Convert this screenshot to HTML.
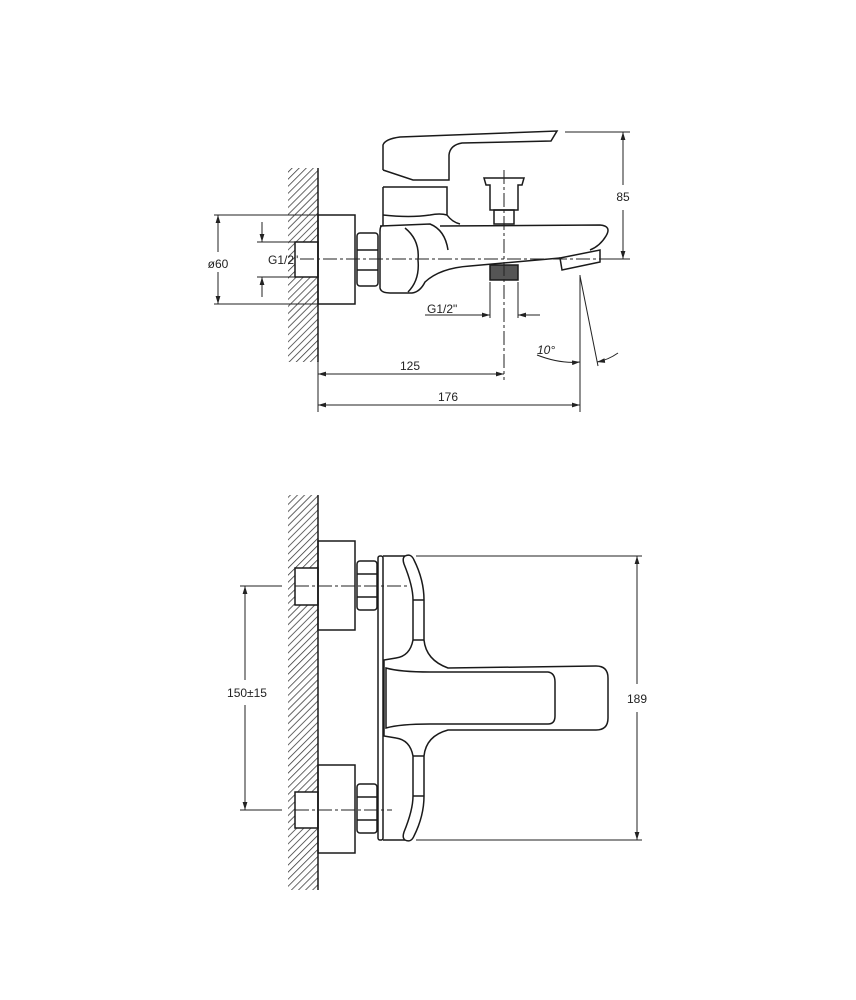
<!DOCTYPE html>
<html><head><meta charset="utf-8"><style>
html,body{margin:0;padding:0;background:#fff}
svg{display:block}
text{font-family:"Liberation Sans",sans-serif;font-size:12px;fill:#222}
</style></head><body>
<svg width="856" height="1000" viewBox="0 0 856 1000" xmlns="http://www.w3.org/2000/svg">
<defs>
<pattern id="h" patternUnits="userSpaceOnUse" width="5" height="5" patternTransform="rotate(45)">
<line x1="0" y1="0" x2="0" y2="5" stroke="#333" stroke-width="1.5"/>
</pattern>
<marker id="a" viewBox="0 0 10 10" refX="10" refY="5" markerWidth="8" markerHeight="8" orient="auto-start-reverse" markerUnits="userSpaceOnUse">
<path d="M0,2 L10,5 L0,8 Z" fill="#222"/>
</marker>
</defs>
<g fill="none" stroke="#1a1a1a" stroke-width="1.5">
<!-- TOP VIEW -->
<rect x="288" y="168" width="30" height="74" fill="url(#h)" stroke="none"/>
<rect x="288" y="277" width="30" height="85" fill="url(#h)" stroke="none"/>
<rect x="288" y="242" width="7" height="35" fill="url(#h)" stroke="none"/>
<line x1="318" y1="168" x2="318" y2="362"/>
<rect x="295" y="242" width="23" height="35"/>
<rect x="318" y="215" width="37" height="89"/>
<rect x="357" y="233" width="21" height="53" rx="3"/>
<line x1="357" y1="250" x2="378" y2="250"/><line x1="357" y1="270" x2="378" y2="270"/>
<path d="M382,226 Q380,226 380,232 L380,288 Q381,293 390,293 L412,293 Q420,292 425,282 Q440,268 470,266 L560,258"/>
<path d="M405,228 Q420,240 418,260 Q420,280 408,292"/>
<path d="M380,226 L430,224 Q445,230 448,250"/>
<path d="M440,226 L600,225 Q612,226 606,236 Q600,246 590,250"/>
<path d="M560,258 L600,250 L600,262 L562,270 Z"/>
<path d="M383,187 L447,187 L447,215 Q452,222 460,224 M383,187 L383,226"/>
<path d="M383,215 Q410,218 430,215 Q440,213 447,215"/>
<path d="M383,170 L383,145 Q385,139 400,137 L557,131 L551,141 L462,143 Q450,145 449,155 L449,180 L413,180 L383,170"/>
<path d="M484,178 L524,178 L522,185 L518,185 L518,210 L490,210 L490,185 L486,185 Z"/>
<rect x="494" y="210" width="20" height="14"/>
<rect x="490" y="265" width="28" height="15" fill="#555"/>
</g>
<g fill="none" stroke="#222" stroke-width="1">
<line x1="300" y1="259" x2="630" y2="259" stroke-dasharray="14,3,3,3"/>
<line x1="504" y1="170" x2="504" y2="380" stroke-dasharray="14,3,3,3"/>
<line x1="565" y1="132" x2="630" y2="132"/>
<line x1="612" y1="259" x2="630" y2="259"/>
<line x1="623" y1="132" x2="623" y2="185" marker-start="url(#a)"/>
<line x1="623" y1="210" x2="623" y2="259" marker-end="url(#a)"/>
<line x1="214" y1="215" x2="318" y2="215"/>
<line x1="214" y1="304" x2="318" y2="304"/>
<line x1="218" y1="215" x2="218" y2="252" marker-start="url(#a)"/>
<line x1="218" y1="272" x2="218" y2="304" marker-end="url(#a)"/>
<line x1="257" y1="242" x2="295" y2="242"/>
<line x1="257" y1="277" x2="295" y2="277"/>
<line x1="262" y1="222" x2="262" y2="242" marker-end="url(#a)"/>
<line x1="262" y1="297" x2="262" y2="277" marker-end="url(#a)"/>
<line x1="490" y1="282" x2="490" y2="318"/>
<line x1="518" y1="282" x2="518" y2="318"/>
<line x1="425" y1="315" x2="490" y2="315" marker-end="url(#a)"/>
<line x1="540" y1="315" x2="518" y2="315" marker-end="url(#a)"/>
<line x1="580" y1="275" x2="580" y2="412"/>
<line x1="580" y1="276" x2="598" y2="366"/>
<path d="M537,355 Q560,364 580,362" marker-end="url(#a)"/>
<path d="M618,353 Q608,360 597,362" marker-end="url(#a)"/>
<line x1="318" y1="362" x2="318" y2="412"/>
<line x1="318" y1="374" x2="504" y2="374" marker-start="url(#a)" marker-end="url(#a)"/>
<line x1="318" y1="405" x2="580" y2="405" marker-start="url(#a)" marker-end="url(#a)"/>
</g>
<text x="623" y="201" text-anchor="middle">85</text>
<text x="218" y="268" text-anchor="middle">ø60</text>
<text x="268" y="264">G1/2"</text>
<text x="427" y="313">G1/2"</text>
<text x="537" y="354" font-style="italic" font-size="11">10°</text>
<text x="410" y="370" text-anchor="middle">125</text>
<text x="448" y="401" text-anchor="middle">176</text>

<g fill="none" stroke="#1a1a1a" stroke-width="1.5">
<rect x="288" y="495" width="30" height="73" fill="url(#h)" stroke="none"/>
<rect x="288" y="605" width="30" height="187" fill="url(#h)" stroke="none"/>
<rect x="288" y="828" width="30" height="62" fill="url(#h)" stroke="none"/>
<rect x="288" y="568" width="7" height="37" fill="url(#h)" stroke="none"/>
<rect x="288" y="792" width="7" height="36" fill="url(#h)" stroke="none"/>
<line x1="318" y1="495" x2="318" y2="890"/>
<rect x="295" y="568" width="23" height="37"/>
<rect x="295" y="792" width="23" height="36"/>
<rect x="318" y="541" width="37" height="89"/>
<rect x="318" y="765" width="37" height="88"/>
<rect x="357" y="561" width="20" height="49" rx="3"/>
<line x1="357" y1="574" x2="377" y2="574"/><line x1="357" y1="597" x2="377" y2="597"/>
<rect x="357" y="784" width="20" height="49" rx="3"/>
<line x1="357" y1="797" x2="377" y2="797"/><line x1="357" y1="820" x2="377" y2="820"/>
<rect x="378" y="556" width="5" height="284" rx="2"/>
<line x1="383" y1="556" x2="405" y2="556"/><line x1="383" y1="840" x2="405" y2="840"/>
<path d="M405,556 Q411,553 414,560 Q424,580 424,600 L424,640 Q426,660 448,668 L596,666 Q608,666 608,678 L608,718 Q608,730 596,730 L448,730 Q426,736 424,756 L424,796 Q424,816 414,836 Q411,843 405,840 Q402,838 404,832 Q413,810 413,796 L413,756 Q410,740 396,738 L384,736 L384,660 L396,658 Q410,656 413,640 L413,600 Q413,586 404,564 Q402,558 405,556 Z"/>
<path d="M386,668 Q400,672 430,672 L548,672 Q555,673 555,682 L555,716 Q555,724 548,724 L430,724 Q400,724 386,728 Z"/>
<line x1="413" y1="600" x2="424" y2="600"/><line x1="413" y1="640" x2="424" y2="640"/>
<line x1="413" y1="756" x2="424" y2="756"/><line x1="413" y1="796" x2="424" y2="796"/>
</g>
<g fill="none" stroke="#222" stroke-width="1">
<line x1="295" y1="586" x2="410" y2="586" stroke-dasharray="14,3,3,3"/>
<line x1="295" y1="810" x2="392" y2="810" stroke-dasharray="14,3,3,3"/>
<line x1="240" y1="586" x2="282" y2="586"/>
<line x1="240" y1="810" x2="282" y2="810"/>
<line x1="245" y1="586" x2="245" y2="680" marker-start="url(#a)"/>
<line x1="245" y1="705" x2="245" y2="810" marker-end="url(#a)"/>
<line x1="416" y1="556" x2="642" y2="556"/>
<line x1="416" y1="840" x2="642" y2="840"/>
<line x1="637" y1="556" x2="637" y2="684" marker-start="url(#a)"/>
<line x1="637" y1="712" x2="637" y2="840" marker-end="url(#a)"/>
</g>
<text x="247" y="697" text-anchor="middle">150±15</text>
<text x="637" y="703" text-anchor="middle">189</text>
</svg>
</body></html>
